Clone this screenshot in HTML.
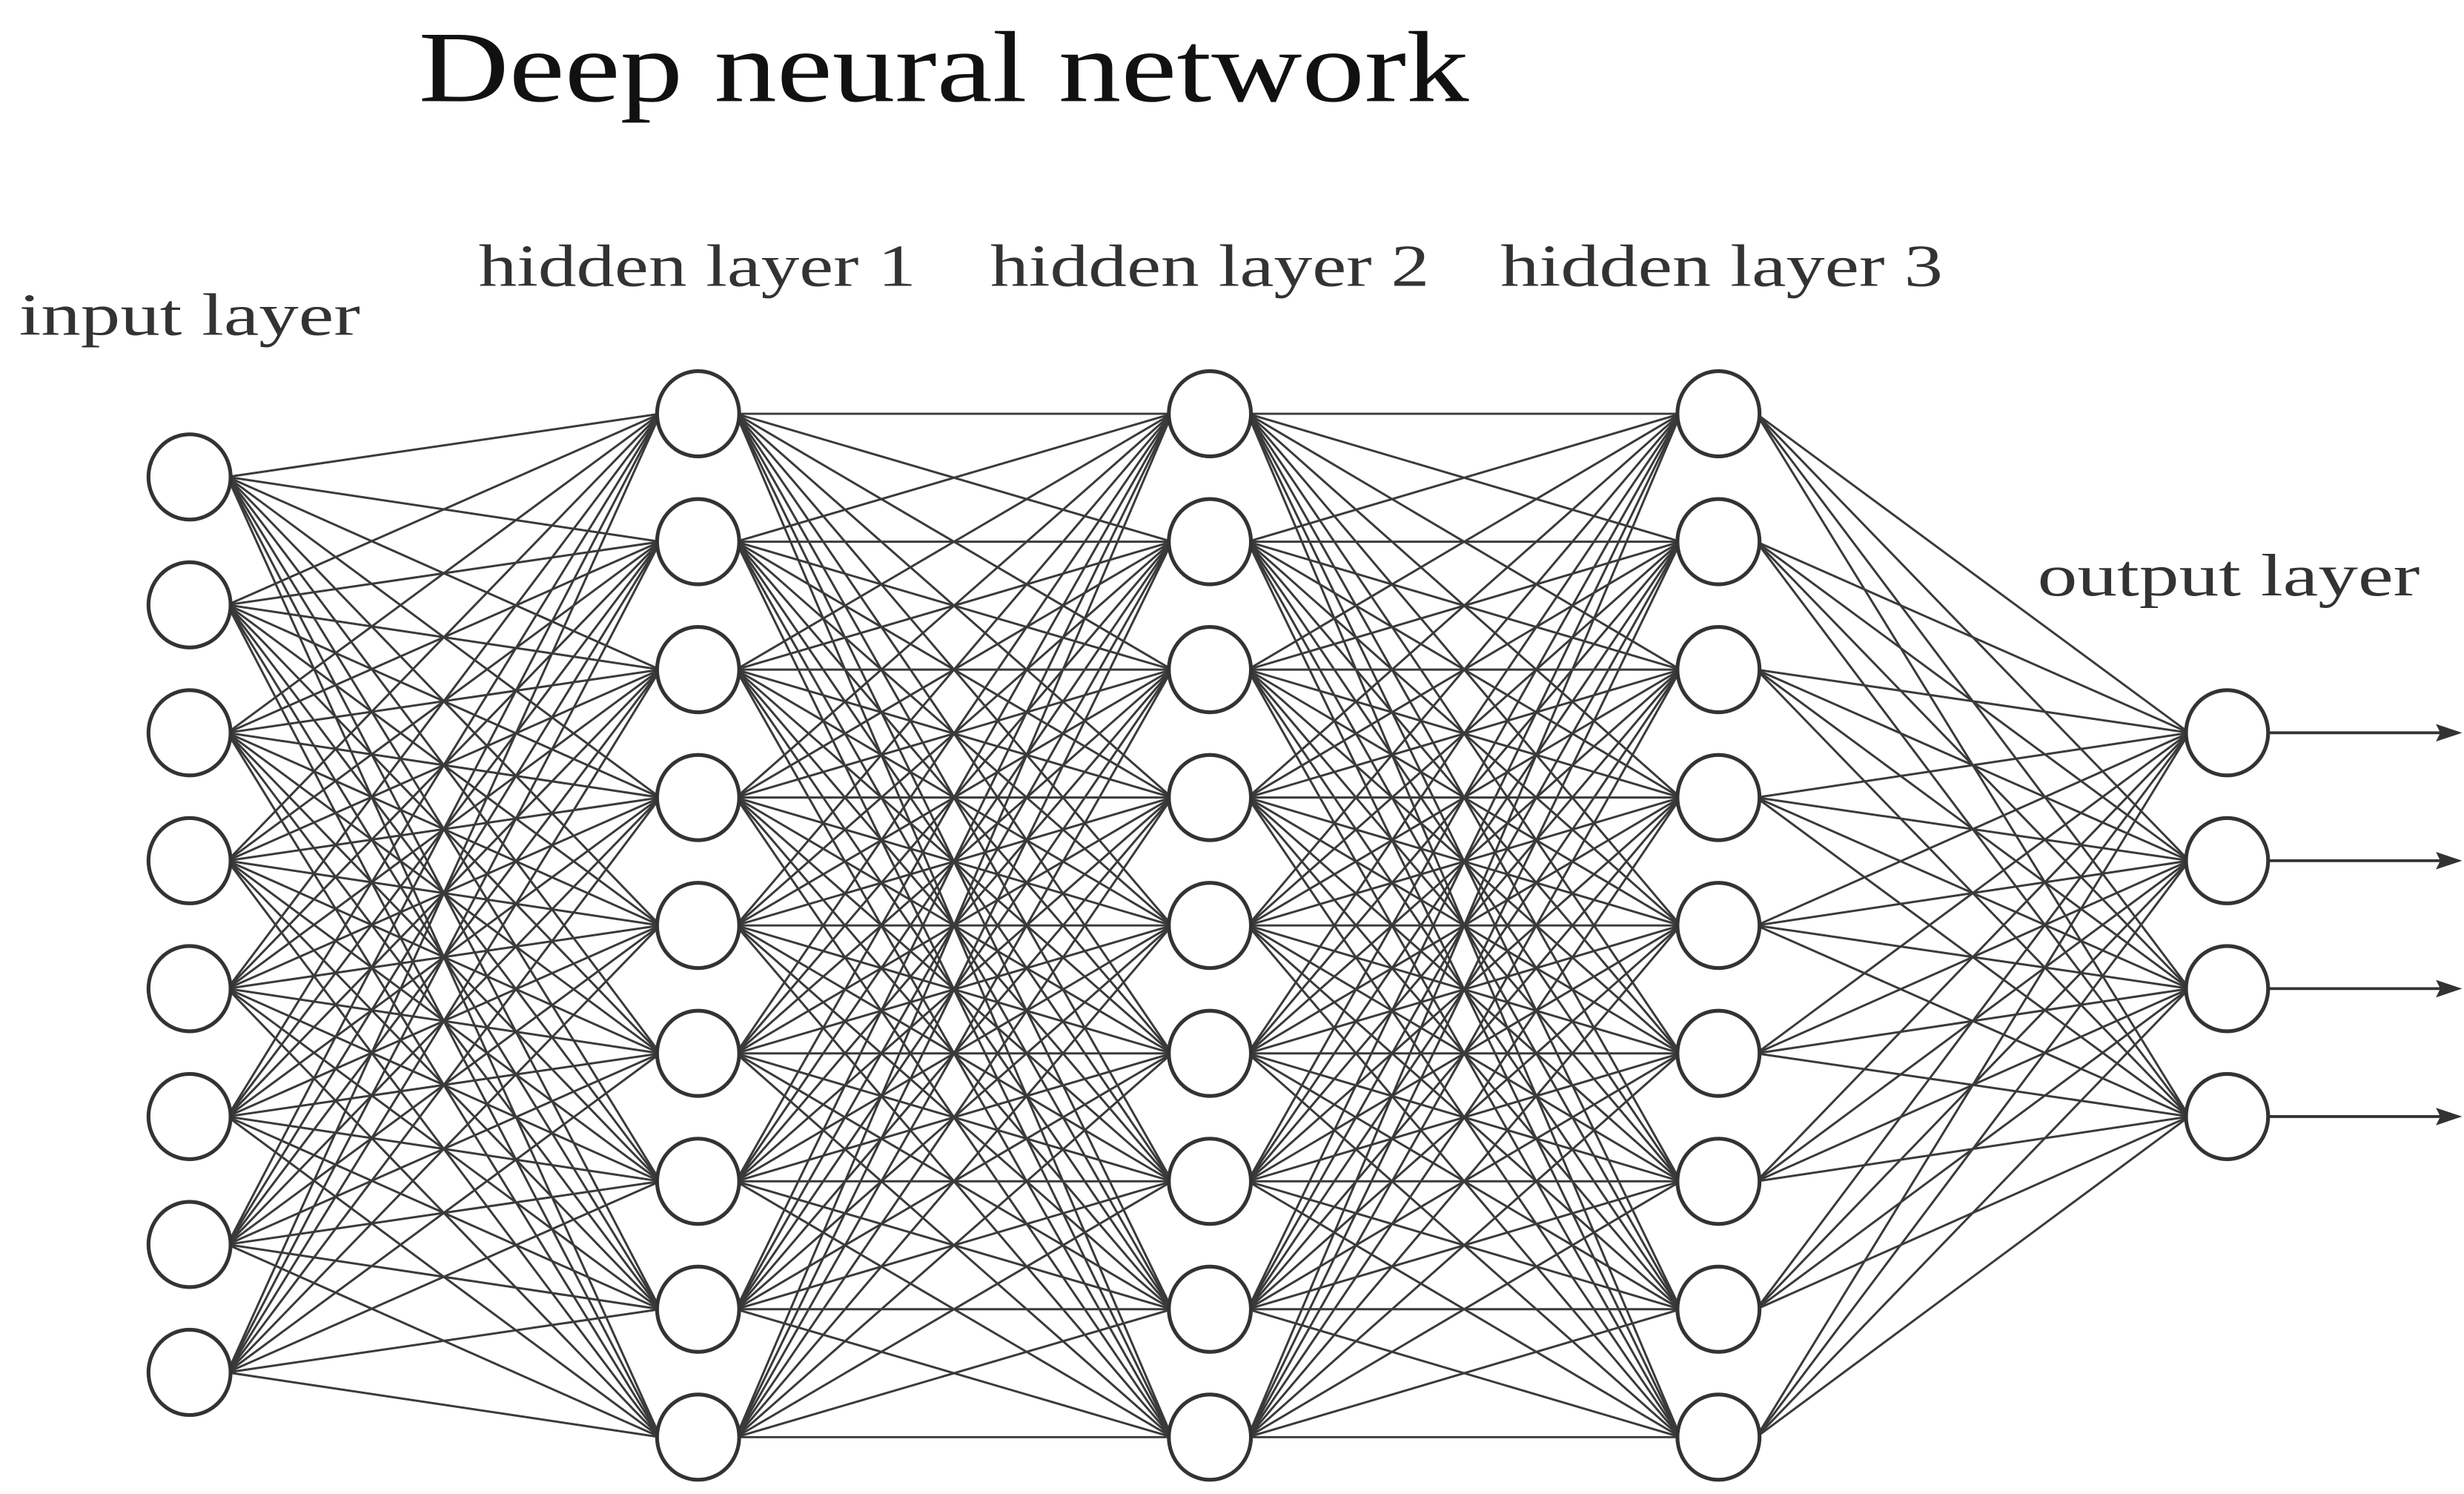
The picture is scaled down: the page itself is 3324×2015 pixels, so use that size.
<!DOCTYPE html>
<html><head><meta charset="utf-8"><style>
html,body{margin:0;padding:0;background:#fff;}
svg{display:block;}
text{font-family:"Liberation Serif","DejaVu Serif",serif;}
</style></head><body>
<svg id="s" width="3324" height="2015" viewBox="0 0 1560 946" preserveAspectRatio="none" xmlns="http://www.w3.org/2000/svg">
<rect width="1560" height="946" fill="#fff"/>
<g id="lines" stroke="#3a3a3a" stroke-width="1.4" fill="none"></g>
<g id="nodes" stroke="#333" stroke-width="2.4" fill="#fff"></g>
<g id="arrows" stroke="#333" stroke-width="1.8" fill="#333"></g>
<text x="265" y="64" font-size="64" fill="#111" textLength="665" lengthAdjust="spacingAndGlyphs">Deep neural network</text>
<text x="12" y="212" font-size="38" fill="#333" textLength="216" lengthAdjust="spacingAndGlyphs">input layer</text>
<text x="303" y="181" font-size="38" fill="#333" textLength="277" lengthAdjust="spacingAndGlyphs">hidden layer 1</text>
<text x="627" y="181" font-size="38" fill="#333" textLength="278" lengthAdjust="spacingAndGlyphs">hidden layer 2</text>
<text x="950" y="181" font-size="38" fill="#333" textLength="280" lengthAdjust="spacingAndGlyphs">hidden layer 3</text>
<text x="1290" y="377" font-size="38" fill="#333" textLength="242" lengthAdjust="spacingAndGlyphs">output layer</text>
</svg>
<script>
var NS="http://www.w3.org/2000/svg";
function ys(n,start){var a=[];for(var i=0;i<n;i++)a.push(start+i*81);return a;}
var layers=[{x:120,y:ys(8,302)},{x:442,y:ys(9,262)},{x:766,y:ys(9,262)},{x:1088,y:ys(9,262)},{x:1410,y:ys(4,464)}];
var r=26,L=document.getElementById("lines"),N=document.getElementById("nodes"),A=document.getElementById("arrows");
for(var k=0;k<layers.length-1;k++){var a=layers[k],b=layers[k+1];
 a.y.forEach(function(y1){b.y.forEach(function(y2){var l=document.createElementNS(NS,"line");
  l.setAttribute("x1",a.x+r-2);l.setAttribute("y1",y1);l.setAttribute("x2",b.x-r+2);l.setAttribute("y2",y2);L.appendChild(l);});});}
layers.forEach(function(ly){ly.y.forEach(function(y){var c=document.createElementNS(NS,"ellipse");
 c.setAttribute("cx",ly.x);c.setAttribute("cy",y);c.setAttribute("rx",r);c.setAttribute("ry",r+1);N.appendChild(c);});});
layers[4].y.forEach(function(y){var l=document.createElementNS(NS,"line");l.setAttribute("x1",1436);l.setAttribute("y1",y);l.setAttribute("x2",1548);l.setAttribute("y2",y);A.appendChild(l);
 var p=document.createElementNS(NS,"path");p.setAttribute("d","M1556 "+y+" L1544 "+(y-4)+" L1546 "+y+" L1544 "+(y+4)+" Z");A.appendChild(p);});
</script>
</body></html>
